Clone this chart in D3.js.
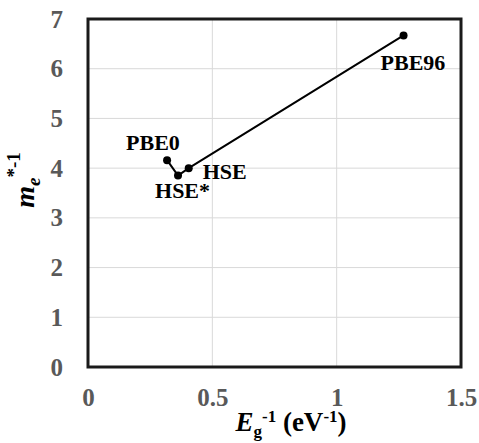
<!DOCTYPE html>
<html><head><meta charset="utf-8">
<script src="https://cdn.jsdelivr.net/npm/d3@7"></script>
<style>body{margin:0;background:#fff}svg{display:block}</style>
</head><body>
<script>
const labels = ["PBE0", "HSE*", "HSE", "PBE96"];
const xValues = [0.318, 0.362, 0.405, 1.269];
const yValues = [4.16, 3.85, 4.0, 6.67];
const xTicks = [0, 0.5, 1, 1.5];
const yTicks = [0, 1, 2, 3, 4, 5, 6, 7];

const W = 479, H = 443;
const m = {left: 88, right: 18, top: 19, bottom: 76};
const svg = d3.select("body").append("svg").attr("width", W).attr("height", H);
const x = d3.scaleLinear().domain([0, 1.5]).range([m.left, W - m.right]);
const y = d3.scaleLinear().domain([0, 7]).range([H - m.bottom, m.top]);
const font = "'Liberation Serif','Times New Roman',serif";

// gridlines
svg.append("g").selectAll("line").data(yTicks).join("line")
  .attr("x1", m.left).attr("x2", W - m.right)
  .attr("y1", d => y(d)).attr("y2", d => y(d))
  .attr("stroke", "#d9d9d9").attr("stroke-width", 1);
svg.append("g").selectAll("line").data(xTicks).join("line")
  .attr("y1", m.top).attr("y2", H - m.bottom)
  .attr("x1", d => x(d)).attr("x2", d => x(d))
  .attr("stroke", "#d9d9d9").attr("stroke-width", 1);

// axes tick labels
const xAxis = svg.append("g").attr("transform", `translate(0,${H - m.bottom})`)
  .call(d3.axisBottom(x).tickValues(xTicks).tickSize(0).tickPadding(21).tickFormat(d => String(d)));
xAxis.select(".domain").remove();
xAxis.selectAll("text").attr("font-family", font).attr("font-weight", "bold")
  .attr("font-size", 25).attr("fill", "#595959");
const yAxis = svg.append("g").attr("transform", `translate(${m.left},0)`)
  .call(d3.axisLeft(y).tickValues(yTicks).tickSize(0).tickPadding(25).tickFormat(d => String(d)));
yAxis.select(".domain").remove();
yAxis.selectAll("text").attr("font-family", font).attr("font-weight", "bold")
  .attr("font-size", 25).attr("fill", "#595959");

// frame
svg.append("rect").attr("x", m.left).attr("y", m.top)
  .attr("width", W - m.left - m.right).attr("height", H - m.top - m.bottom)
  .attr("fill", "none").attr("stroke", "#1a1a1a").attr("stroke-width", 3);

// data
const pts = labels.map((l, i) => ({l, x: xValues[i], y: yValues[i]}));
svg.append("path").datum(pts)
  .attr("d", d3.line().x(d => x(d.x)).y(d => y(d.y)))
  .attr("fill", "none").attr("stroke", "#000").attr("stroke-width", 2);
svg.append("g").selectAll("circle").data(pts).join("circle")
  .attr("cx", d => x(d.x)).attr("cy", d => y(d.y)).attr("r", 4).attr("fill", "#000");

// point labels
const off = {"PBE0": [-41, -10], "HSE*": [-23, 22], "HSE": [14, 11], "PBE96": [-23, 35]};
svg.append("g").selectAll("text").data(pts).join("text")
  .attr("x", d => x(d.x) + off[d.l][0]).attr("y", d => y(d.y) + off[d.l][1])
  .attr("font-family", font).attr("font-weight", "bold").attr("font-size", 22)
  .attr("fill", "#000").text(d => d.l);

// x title
const xt = svg.append("text").attr("x", 291).attr("y", 431).attr("text-anchor", "middle")
  .attr("font-family", font).attr("font-weight", "bold").attr("font-size", 27).attr("fill", "#000");
xt.append("tspan").attr("font-style", "italic").text("E");
xt.append("tspan").attr("font-size", 17).attr("dy", 6).text("g");
xt.append("tspan").attr("font-size", 17).attr("dy", -15).text("-1");
xt.append("tspan").attr("dy", 9).text(" (eV");
xt.append("tspan").attr("font-size", 17).attr("dy", -9).text("-1");
xt.append("tspan").attr("dy", 9).text(")");

// y title
const yt = svg.append("text").attr("transform", "translate(34,180) rotate(-90)").attr("text-anchor", "middle")
  .attr("font-family", font).attr("font-weight", "bold").attr("font-size", 28).attr("fill", "#000");
yt.append("tspan").attr("font-style", "italic").text("m");
yt.append("tspan").attr("font-style", "italic").attr("font-size", 19).attr("dy", 6).text("e");
yt.append("tspan").attr("font-size", 19).attr("dy", -20).text("*-1");
</script>
</body></html>
